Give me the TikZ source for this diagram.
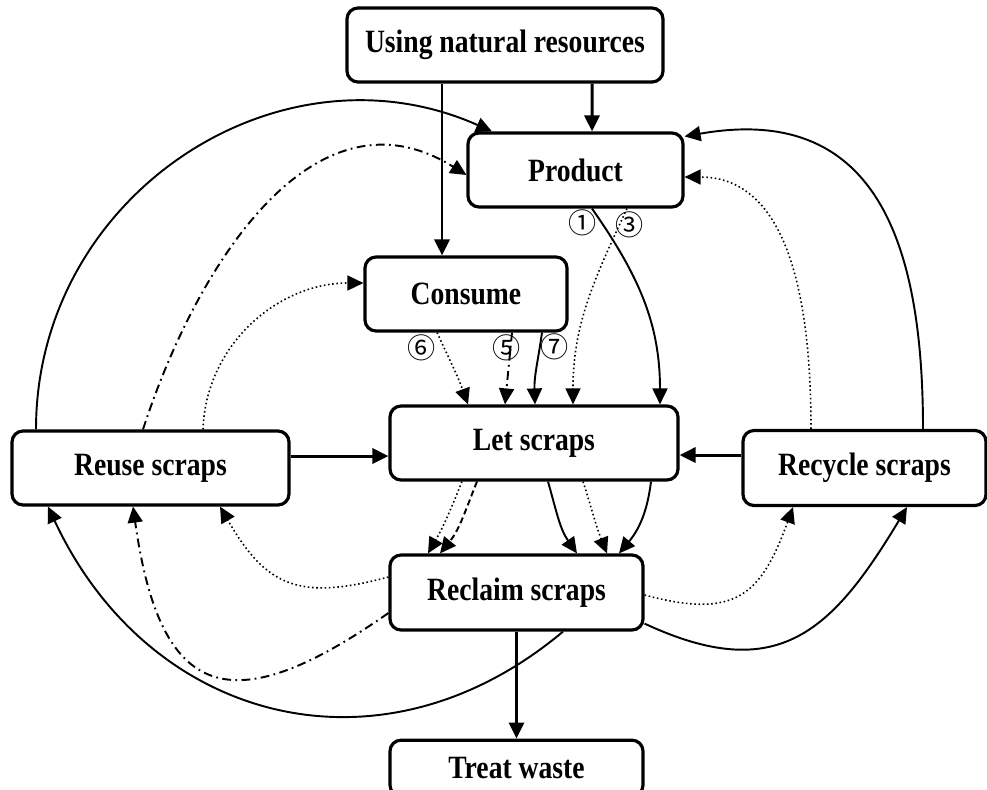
\documentclass[tikz,border=0pt]{standalone}
\usepackage{fontspec}
\setmainfont{Liberation Serif}[FakeStretch=0.85]
\newfontfamily\circfont{Noto Sans CJK SC}
\usepackage{tikz}
\usetikzlibrary{positioning}
\usetikzlibrary{arrows.meta}

\begin{document}
\begin{tikzpicture}[
	box/.style={draw, line width=1.8pt, rounded corners=2.2mm, inner sep=0pt, minimum height=1.48cm, font=\bfseries\fontsize{18.5}{20}\selectfont},
	num/.style={inner sep=0pt, font=\circfont\fontsize{16}{16}\selectfont},
	tip/.style={-{Triangle[length=3.2mm,width=3mm]}},
	mainflow/.style={tip, line width=1.7pt},
	solidflow/.style={tip, line width=1.1pt},
	dotflow/.style={tip, line width=0.9pt, dash pattern=on 0.9pt off 1.5pt},
	dashflow/.style={tip, line width=1.1pt, dash pattern=on 3.5pt off 2pt},
	dotdashflow/.style={tip, line width=1.1pt, dash pattern=on 5pt off 2.5pt on 1pt off 2.5pt}]
	\useasboundingbox (0,0) rectangle (19.74,-15.78);
	
	\node [box, minimum width=6.32cm] at (10.1,-0.9) (use) {Using natural resources};
	\node [box, minimum width=4.3cm] at (11.51,-3.4) (prod) {Product};
	\node [box, minimum width=4.04cm] at (9.32,-5.88) (cons) {Consume};
	\node [box, minimum width=5.76cm] at (10.68,-8.86) (let) {Let scraps};
	\node [box, minimum width=5.54cm] at (3.01,-9.36) (reuse) {Reuse scraps};
	\node [box, minimum width=4.86cm, minimum height=1.5cm] at (17.29,-9.36) (recyc) {Recycle scraps};
	\node [box, minimum width=5.06cm, minimum height=1.5cm] at (10.33,-11.85) (recl) {Reclaim scraps};
	\node [box, minimum width=5.06cm, minimum height=1.12cm, below=2.14cm of recl] (treat) {Treat waste};
	\node [num] at (11.66,-4.46) (n1) {①}; \node [num] at (12.6,-4.5) (n3) {③};
	\node [num] at (8.44,-6.96) (n6) {⑥}; \node [num] at (10.14,-6.96) (n5) {⑤}; \node [num] at (11.1,-6.93) (n7) {⑦};
	
	\draw [mainflow] ([xshift=1.74cm]use.south) -- ([xshift=0.33cm]prod.north);
	\draw [mainflow] ([xshift=-1.26cm]use.south) -- ([xshift=-0.48cm]cons.north);
	\draw [solidflow] ([xshift=0.33cm]prod.south) to[out=-55,in=90] ([xshift=2.52cm]let.north);
	\draw [dotflow] ([xshift=1.03cm]prod.south) to[out=-115,in=90] ([xshift=0.78cm]let.north);
	\draw [dotflow] ([xshift=-0.58cm]cons.south) to[out=-65,in=110] ([xshift=-1.32cm]let.north);
	\draw [dotdashflow] ([xshift=0.92cm]cons.south) -- ([xshift=-0.58cm]let.north);
	\draw [solidflow] ([xshift=1.52cm]cons.south) to[out=-98,in=92] ([xshift=0.02cm]let.north);
	\draw [mainflow] ([yshift=0.24cm]reuse.east) -- ([yshift=-0.26cm]let.west);
	\draw [mainflow] ([yshift=0.26cm]recyc.west) -- ([yshift=-0.24cm]let.east);
	\draw [solidflow] ([xshift=-2.29cm]reuse.north) to[out=90,in=156,looseness=1.1] ([xshift=-1.67cm]prod.north);
	\draw [dotdashflow] ([xshift=-0.15cm]reuse.north) to[out=72,in=148,looseness=1.1] ([yshift=-0.1cm]prod.west);
	\draw [dotflow] ([xshift=1.05cm]reuse.north) to[out=88,in=180] ([yshift=0.22cm]cons.west);
	\draw [solidflow] ([xshift=1.17cm]recyc.north) to[out=90,in=10,looseness=1.3] ([yshift=-0.1cm]prod.north east);
	\draw [dotflow] ([xshift=-1.07cm]recyc.north) to[out=90,in=0] ([yshift=-0.14cm]prod.east);
	\draw [dotflow] ([xshift=-1.44cm]let.south) to[out=-112,in=60] ([xshift=-1.77cm]recl.north);
	\draw [dashflow] ([xshift=-1.14cm]let.south) to[out=-112,in=51] ([xshift=-1.53cm]recl.north);
	\draw [solidflow] ([xshift=0.28cm]let.south) to[out=-74,in=125] ([xshift=1.21cm]recl.north);
	\draw [dotflow] ([xshift=0.98cm]let.south) to[out=-72,in=112] ([xshift=1.81cm]recl.north);
	\draw [solidflow] ([xshift=2.34cm]let.south) to[out=-97,in=50] ([xshift=2.05cm]recl.north);
	\draw [mainflow] (recl) -- (treat);
	\draw [solidflow] ([xshift=0.93cm]recl.south) to[out=-140,in=-65,looseness=1.15] ([xshift=-2.05cm]reuse.south);
	\draw [dotdashflow] ([yshift=-0.41cm]recl.west) to[out=-145,in=-82,looseness=1.8] ([xshift=-0.35cm]reuse.south);
	\draw [dotflow] ([yshift=0.31cm]recl.west) to[out=-165,in=-60,looseness=1.3] ([xshift=1.39cm]reuse.south);
	\draw [dotflow] ([yshift=-0.05cm]recl.east) to[out=-15,in=-110,looseness=1.4] ([xshift=-1.43cm]recyc.south);
	\draw [solidflow] ([yshift=0.16cm]recl.south east) to[out=-25,in=-121,looseness=1.3] ([xshift=0.85cm]recyc.south);
\end{tikzpicture}
\end{document}
